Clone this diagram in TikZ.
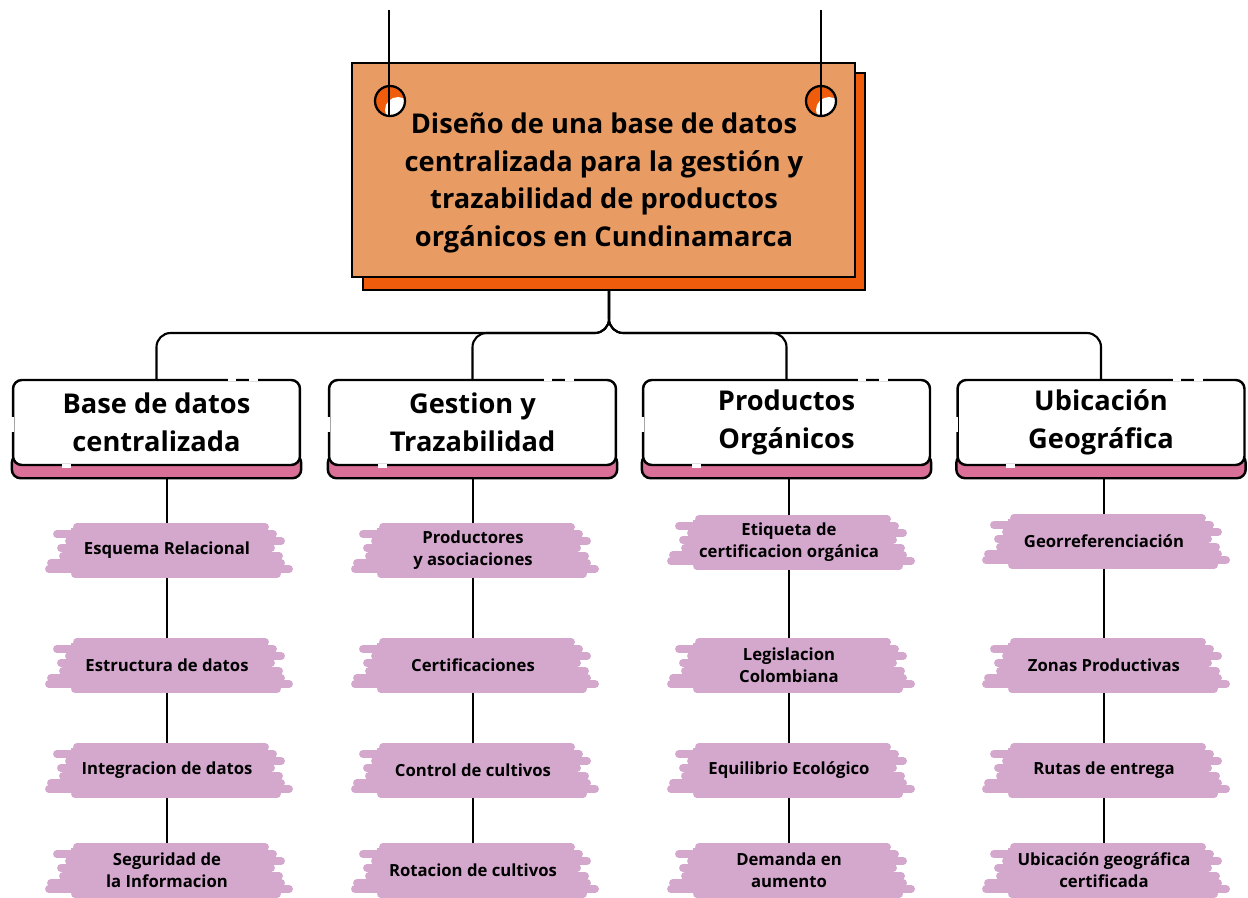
\documentclass[tikz,border=0pt]{standalone}
\usepackage{fontspec}
\setmainfont{Open Sans}
\usetikzlibrary{calc, backgrounds}

\definecolor{titlefill}{HTML}{E89C63}
\definecolor{titleshade}{HTML}{EE5C0C}
\definecolor{bandpink}{HTML}{DA7097}
\definecolor{brushpink}{HTML}{D4A7CD}

\tikzset{
	catbox/.style = {draw, line width=1.4pt, fill=white, rounded corners=5pt,
		minimum width=5.74cm, minimum height=1.7cm, align=center,
		font=\fontsize{15.5}{21.5}\selectfont\bfseries},
	itemtext/.style = {align=center, font=\fontsize{9.5}{12.5}\selectfont\bfseries},
	link/.style = {line width=1.2pt},
	brush/.pic = {
		\fill[brushpink] (-96,-22) rectangle (100,20);
		\foreach \yy/\xa/\xb in {-23/-90/98, -16/-110/106, -9/-98/114, -2/-106/104, 6/-104/112, 13/-116/114, 19/-118/122, 24/-92/110}
			\draw[brushpink, line width=4.5pt, line cap=round] (\xa,\yy) -- (\xb,\yy);
	}
}

\begin{document}
\begin{tikzpicture}[x=0.02cm, y=-0.02cm]
	\useasboundingbox (0,0) rectangle (1248,897);
	
	% title card
	\node[draw, line width=1.4pt, fill=titleshade, minimum width=10.04cm, minimum height=4.34cm] (titleshade) at (614,181.5) {};
	\node[draw, line width=1.4pt, fill=titlefill, minimum width=10.06cm, minimum height=4.28cm] (titlebox) at (603.5,170) {};
	\node[align=center, font=\fontsize{15.5}{21.5}\selectfont\bfseries] (title) at (604,183)
		{Diseño de una base de datos\\centralizada para la gestión y\\trazabilidad de productos\\orgánicos en Cundinamarca};
	
	% hangers
	\coordinate (hookL) at (389,10);
	\coordinate (hookR) at (821,10);
	\foreach \hx in {390, 821} {
		\fill[titleshade] (\hx,101) circle [radius=15];
		\begin{scope}
			\clip (\hx,101) circle [radius=15];
			\fill[white] (\hx+8,110) circle [radius=13];
		\end{scope}
		\draw[line width=1.3pt] (\hx,101) circle [radius=15];
	}
	\draw[link] (hookL) -- (389,116);
	\draw[link] (hookR) -- (821,116);
	
	% categories
	\node[catbox] (cBase) at (156.5,422.5) {Base de datos\\centralizada};
	\node[catbox] (cGestion) at (472.5,422.5) {Gestion y\\Trazabilidad};
	\node[catbox] (cProductos) at (786.5,422.5) {Productos\\Orgánicos};
	\node[catbox] (cUbicacion) at (1101,422.5) {Ubicación\\Geográfica};
	
	% items
	\node[itemtext] (i11) at (167,550) {Esquema Relacional};
	\node[itemtext] (i12) at (167,665) {Estructura de datos};
	\node[itemtext] (i13) at (167,770) {Integracion de datos};
	\node[itemtext] (i14) at (167,870) {Seguridad de\\la Informacion};
	
	\node[itemtext] (i21) at (473,550) {Productores\\y asociaciones};
	\node[itemtext] (i22) at (473,665) {Certificaciones};
	\node[itemtext] (i23) at (473,770) {Control de cultivos};
	\node[itemtext] (i24) at (473,870) {Rotacion de cultivos};
	
	\node[itemtext] (i31) at (789,542) {Etiqueta de\\certificacion orgánica};
	\node[itemtext] (i32) at (789,665) {Legislacion\\Colombiana};
	\node[itemtext] (i33) at (789,770) {Equilibrio Ecológico};
	\node[itemtext] (i34) at (789,870) {Demanda en\\aumento};
	
	\node[itemtext] (i41) at (1104,541) {Georreferenciación};
	\node[itemtext] (i42) at (1104,665) {Zonas Productivas};
	\node[itemtext] (i43) at (1104,770) {Rutas de entrega};
	\node[itemtext] (i44) at (1104,870) {Ubicación geográfica\\certificada};
	
	% broken border bits
	\foreach \c in {cBase, cGestion, cProductos, cUbicacion} {
		\draw[white, line width=2pt] ($(\c.north east)+(-73,0)$) -- ($(\c.north east)+(-65,0)$);
		\draw[white, line width=2pt] ($(\c.north east)+(-52,0)$) -- ($(\c.north east)+(-43,0)$);
		\draw[white, line width=2pt] ($(\c.north west)+(0,38)$) -- ($(\c.north west)+(0,53)$);
		\draw[white, line width=2pt] ($(\c.south west)+(50,0)$) -- ($(\c.south west)+(59,0)$);
	}
	
	\begin{scope}[on background layer]
		% tree
		\coordinate (fork) at (609,333);
		\foreach \c in {cBase, cGestion, cProductos, cUbicacion}
			\draw[link, rounded corners=8pt] (\c.north) |- (fork) -- (fork |- titleshade.south);
		\draw[link] (i11 |- cBase.south) -- (i14.center);
		\draw[link] (i21 |- cGestion.south) -- (i24.center);
		\draw[link] (i31 |- cProductos.south) -- (i34.center);
		\draw[link] (i41 |- cUbicacion.south) -- (i44.center);
		% pink bands
		\foreach \c in {cBase, cGestion, cProductos, cUbicacion}
			\draw[line width=1.4pt, fill=bandpink, rounded corners=5pt]
				($(\c.south west)+(0,-12)$) rectangle ($(\c.south east)+(0,12)$);
		% brush strokes
		\foreach \n in {i11, i12, i13, i14, i21, i22, i23, i24, i31, i32, i33, i34, i41, i42, i43, i44}
			\pic at (\n.center) {brush};
	\end{scope}
\end{tikzpicture}
\end{document}
